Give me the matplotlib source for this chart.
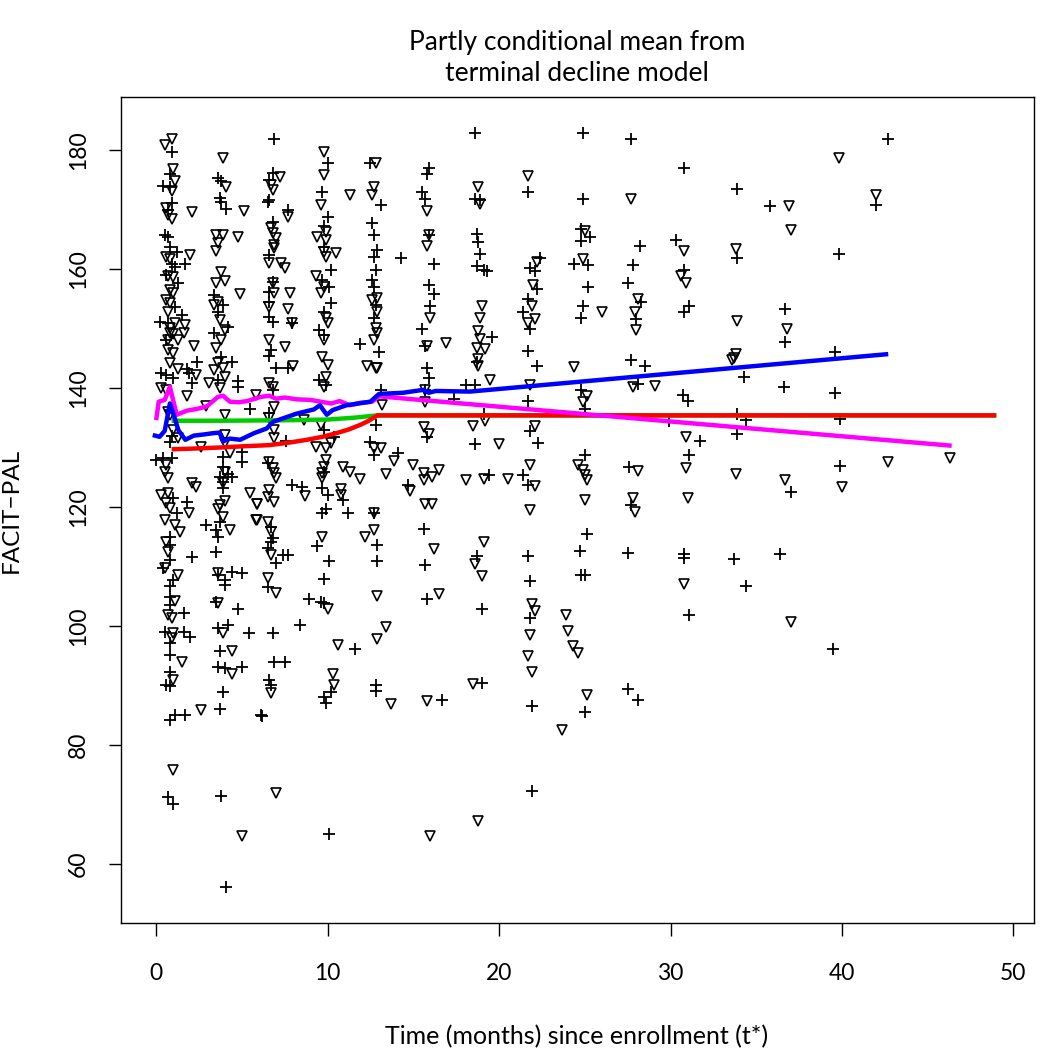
import numpy as np
import matplotlib
matplotlib.use('Agg')
import matplotlib.pyplot as plt

# observations drawn as "+" (time in months, FACIT-PAL score)
plus_points = [
    # baseline visit
    (0.9, 179.7), (0.8, 176.0), (0.4, 174.0), (0.8, 173.8), (0.9, 171.1), (0.7, 169.9),
    (0.5, 165.7), (0.7, 165.4), (0.8, 163.7), (1.2, 162.9), (1.7, 160.8), (0.9, 160.8),
    (1.1, 160.3), (0.6, 159.0), (1.3, 157.6), (1.1, 153.6), (1.5, 152.3), (0.2, 151.1),
    (0.7, 150.9), (0.6, 148.1), (2.4, 144.4), (1.8, 143.2), (0.6, 142.2), (1.0, 141.7),
    (1.9, 142.5), (2.1, 140.8), (0.3, 142.5), (0.8, 131.0), (0.9, 132.0), (0.0, 127.9),
    (0.4, 128.2), (0.9, 128.2), (1.0, 121.5), (1.8, 120.8), (1.2, 119.0), (2.9, 117.0),
    (0.8, 115.0), (0.8, 113.6), (0.8, 111.1), (2.1, 111.6), (0.4, 109.7), (1.0, 107.7),
    (0.8, 106.7), (0.8, 104.9), (0.8, 103.5), (1.6, 102.2), (0.5, 99.0), (1.6, 99.0),
    (2.0, 98.2), (0.8, 97.1), (0.8, 95.1), (0.8, 92.3), (0.6, 90.1), (0.8, 89.9),
    (1.1, 85.0), (1.7, 85.0), (0.8, 84.2), (0.7, 71.3), (1.0, 70.1),
    # ~3 months
    (3.6, 175.3), (3.8, 174.8), (3.7, 171.9), (3.8, 171.3), (4.1, 170.1), (3.4, 155.6),
    (3.9, 154.0), (3.6, 152.8), (4.2, 150.3), (3.4, 149.2), (3.8, 145.2), (4.4, 144.4),
    (3.6, 141.3), (4.8, 141.1), (4.8, 140.2), (5.5, 136.5), (3.9, 128.4), (5.0, 129.2),
    (5.0, 127.6), (3.9, 126.7), (3.7, 125.1), (4.2, 125.5), (4.4, 125.1), (3.9, 124.2),
    (3.9, 123.2), (3.7, 117.5), (3.5, 116.1), (3.6, 115.0), (3.5, 112.4), (3.6, 108.6),
    (4.0, 107.7), (4.0, 106.9), (4.4, 109.1), (5.0, 108.9), (3.5, 104.0), (4.8, 102.9),
    (3.6, 99.7), (4.2, 100.2), (5.4, 98.8), (3.7, 95.8), (3.6, 93.1), (4.0, 92.9),
    (5.0, 93.1), (3.9, 88.9), (3.7, 86.0), (6.1, 85.0), (3.8, 71.4), (4.1, 56.1),
    # ~6-7 months
    (6.9, 181.8), (6.8, 176.1), (6.6, 175.0), (6.6, 171.6), (6.5, 171.3), (7.7, 169.9),
    (6.8, 167.9), (6.6, 162.4), (6.8, 157.8), (6.6, 156.1), (6.6, 154.5), (6.6, 151.9),
    (6.8, 151.1), (7.9, 150.9), (6.7, 146.4), (6.6, 145.4), (7.0, 143.4), (7.7, 143.4),
    (6.8, 139.7), (6.6, 135.8), (7.6, 131.1), (6.5, 127.4), (7.9, 123.7), (8.5, 123.4),
    (6.7, 116.6), (6.8, 114.8), (6.7, 114.1), (6.5, 113.1), (7.4, 111.9), (7.7, 111.9),
    (7.0, 110.6), (6.5, 106.6), (6.8, 98.8), (8.4, 100.2), (6.9, 94.0), (7.5, 94.0),
    (6.6, 90.9), (6.7, 90.1), (6.2, 84.9),
    # ~10 months
    (10.0, 177.8), (9.7, 172.9), (10.0, 168.7), (9.8, 167.2), (9.8, 163.7), (10.2, 159.8),
    (9.7, 158.2), (10.1, 157.0), (10.2, 154.3), (9.8, 152.8), (9.5, 149.7), (9.8, 148.9),
    (9.5, 141.3), (9.9, 140.5), (9.8, 133.0), (10.4, 131.8), (9.8, 125.9), (9.7, 123.2),
    (10.0, 122.0), (10.9, 121.2), (9.7, 119.0), (9.9, 119.7), (11.2, 119.0), (9.4, 113.4),
    (10.1, 111.0), (9.8, 107.9), (8.9, 104.5), (9.6, 104.0), (9.8, 103.9), (11.6, 96.1),
    (10.2, 88.9), (9.8, 88.1), (9.9, 87.1), (10.1, 65.0),
    # ~13 months
    (12.5, 177.8), (13.1, 170.8), (12.6, 167.7), (12.7, 165.7), (12.9, 163.2), (12.7, 162.0),
    (14.3, 161.8), (12.8, 159.8), (12.6, 158.2), (12.7, 157.0), (12.8, 154.0), (12.7, 151.8),
    (13.0, 146.1), (11.9, 147.4), (13.1, 139.7), (12.8, 133.8), (12.5, 130.9), (12.7, 128.7),
    (14.1, 129.0), (12.7, 119.0), (12.9, 113.6), (12.9, 111.0), (12.8, 90.1), (12.8, 89.1),
    # ~16 months
    (15.9, 176.9), (15.8, 176.0), (15.5, 172.9), (15.7, 171.8), (15.9, 165.7), (16.2, 160.8),
    (15.9, 157.3), (16.2, 155.8), (16.0, 153.8), (15.5, 149.9), (15.7, 147.1), (15.8, 143.4),
    (15.9, 141.6), (15.7, 139.7), (17.4, 138.2), (15.8, 131.7), (14.7, 123.7), (15.6, 116.3),
    (15.7, 110.3), (15.8, 104.5), (16.7, 87.6),
    # ~19 months
    (18.6, 182.9), (18.6, 171.8), (18.9, 171.6), (18.7, 165.9), (18.8, 164.5), (18.9, 162.6),
    (18.7, 160.5), (19.1, 159.8), (19.3, 159.7), (19.6, 148.5), (18.7, 144.3), (18.1, 140.5),
    (18.6, 140.5), (19.1, 135.6), (18.6, 130.6), (19.4, 125.4), (18.7, 111.7), (19.0, 102.9),
    (19.0, 90.5),
    # ~22 months
    (21.7, 172.9), (22.4, 161.9), (21.8, 160.1), (22.1, 159.7), (22.2, 156.6), (21.7, 155.0),
    (21.4, 152.7), (21.8, 149.9), (21.7, 146.2), (22.2, 143.7), (21.7, 137.8), (21.8, 132.8),
    (22.3, 130.7), (21.4, 125.4), (21.7, 123.7), (21.7, 111.7), (21.8, 107.6), (21.8, 101.4),
    (21.9, 86.6), (21.9, 72.3),
    # ~25 months
    (24.9, 182.8), (24.9, 171.8), (24.8, 166.7), (25.3, 165.3), (24.8, 164.7), (24.4, 160.8),
    (25.2, 160.7), (25.2, 156.9), (24.9, 153.8), (24.8, 151.8), (24.8, 139.7), (25.0, 136.5),
    (25.0, 128.7), (25.1, 115.5), (24.7, 112.6), (24.8, 108.6), (25.0, 108.6), (25.0, 85.5),
    # ~28 months
    (27.7, 181.8), (28.2, 163.9), (27.8, 160.7), (27.5, 157.7), (28.3, 154.4), (28.0, 151.6),
    (27.7, 144.7), (28.5, 143.7), (28.1, 140.7), (27.6, 126.8), (27.7, 120.3), (27.5, 112.2),
    (27.5, 89.5), (28.1, 87.6),
    # ~31 months
    (30.8, 176.9), (30.3, 164.9), (30.8, 159.8), (31.1, 153.7), (30.8, 152.7), (30.7, 138.8),
    (31.0, 137.8), (29.9, 134.5), (31.7, 131.1), (31.1, 128.7), (30.8, 112.1), (30.8, 111.5),
    (31.1, 101.8),
    # ~34 months and later
    (33.9, 173.5), (33.9, 161.9), (34.3, 141.8), (33.9, 135.7), (34.4, 134.6), (33.9, 132.3),
    (33.7, 111.3), (34.4, 106.7), (35.8, 170.6), (36.7, 153.3), (36.7, 147.8), (36.6, 140.1),
    (37.0, 122.6), (36.4, 112.1), (39.8, 162.5), (39.6, 146.0), (39.6, 139.2), (39.9, 134.8),
    (39.9, 126.9), (39.5, 96.2), (42.7, 181.9), (42.0, 170.8),
]

# observations drawn as open down-triangles
tri_points = [
    # baseline visit
    (0.9, 181.8), (0.5, 180.8), (1.0, 176.8), (1.1, 174.8), (0.9, 173.1), (0.6, 170.3),
    (0.7, 169.1), (0.9, 168.4), (2.1, 169.6), (0.6, 162.0), (0.8, 161.7), (2.0, 162.4),
    (0.7, 158.8), (1.0, 158.7), (0.8, 156.5), (1.0, 156.0), (0.6, 154.8), (0.8, 154.3),
    (0.7, 152.8), (1.1, 150.9), (1.7, 150.6), (0.8, 150.1), (1.6, 149.3), (0.8, 149.3),
    (1.0, 149.0), (0.7, 148.1), (1.3, 148.1), (2.2, 147.1), (0.7, 146.4), (1.0, 145.9),
    (0.8, 144.2), (1.3, 143.2), (2.3, 142.2), (3.1, 140.8), (0.3, 140.0), (0.6, 139.7),
    (1.8, 138.7), (2.9, 137.0), (0.7, 136.0), (0.8, 135.5), (1.0, 133.0), (1.3, 131.6),
    (2.6, 130.1), (0.6, 127.1), (0.5, 125.9), (0.7, 124.9), (2.1, 124.0), (2.3, 123.4),
    (0.3, 122.0), (0.7, 122.4), (0.6, 120.7), (0.8, 119.8), (1.9, 119.0), (0.5, 117.8),
    (1.1, 117.0), (1.4, 115.8), (0.6, 114.1), (0.7, 112.4), (0.5, 109.7), (1.3, 108.6),
    (1.1, 104.2), (0.7, 101.8), (0.9, 101.3), (1.0, 98.8), (0.9, 98.0), (1.5, 94.0),
    (1.0, 90.9), (2.6, 85.9), (1.0, 75.8),
    # ~3 months
    (3.9, 178.7), (4.1, 173.8), (5.1, 169.7), (3.5, 165.7), (3.9, 165.7), (3.6, 164.4),
    (3.5, 163.0), (4.8, 165.4), (3.8, 159.5), (3.5, 157.6), (4.0, 158.0), (4.9, 155.8),
    (3.6, 154.5), (3.4, 154.0), (3.7, 151.4), (4.0, 149.7), (3.8, 148.1), (3.5, 146.7),
    (3.6, 144.2), (3.9, 143.4), (3.4, 143.0), (4.0, 141.8), (3.7, 140.0), (5.8, 138.8),
    (4.0, 135.5), (4.0, 132.1), (4.0, 130.8), (4.3, 129.1), (4.0, 125.9), (3.9, 124.0),
    (5.5, 122.4), (5.9, 120.5), (5.8, 117.8), (3.7, 120.3), (4.0, 121.0), (3.6, 119.6),
    (3.9, 118.3), (4.3, 116.1), (3.6, 108.9), (3.6, 103.9), (3.9, 98.8), (4.4, 95.8),
    (4.4, 91.9), (5.0, 64.7),
    # ~6-7 months
    (7.2, 175.5), (6.7, 174.1), (6.8, 173.3), (7.7, 168.7), (6.7, 166.9), (6.8, 166.0),
    (7.0, 165.2), (6.9, 164.0), (6.9, 163.5), (6.6, 161.0), (7.3, 161.0), (7.5, 160.2),
    (6.8, 157.6), (6.9, 156.0), (7.8, 156.0), (6.6, 153.6), (7.7, 153.3), (7.9, 150.9),
    (6.6, 148.1), (7.5, 146.9), (8.0, 143.7), (6.6, 140.8), (6.8, 140.2), (6.9, 136.8),
    (6.6, 135.0), (6.9, 133.0), (6.9, 131.6), (8.6, 134.6), (6.6, 127.6), (6.8, 126.6),
    (6.9, 125.7), (7.0, 124.9), (10.9, 126.7), (11.3, 125.9), (11.9, 124.7), (6.6, 122.9),
    (6.5, 121.7), (6.9, 120.8), (8.7, 121.8), (5.9, 120.5), (5.9, 117.8), (6.5, 117.5),
    (6.7, 115.8), (6.7, 111.9), (6.5, 108.1), (7.0, 105.5), (6.7, 88.7), (7.0, 71.9),
    # ~10 months
    (9.8, 179.7), (9.8, 175.8), (11.3, 172.5), (9.6, 170.8), (9.9, 166.2), (9.4, 165.4),
    (9.9, 164.9), (9.8, 162.9), (9.9, 162.0), (10.5, 162.7), (9.3, 158.8), (9.8, 157.0),
    (9.6, 156.0), (9.9, 151.8), (10.0, 150.9), (9.8, 148.1), (9.7, 145.2), (10.0, 143.9),
    (9.9, 141.8), (9.8, 140.2), (9.6, 133.8), (9.3, 130.1), (9.9, 129.9), (10.2, 130.8),
    (9.9, 127.9), (9.8, 126.7), (9.7, 125.7), (9.7, 124.9), (10.8, 123.0), (10.8, 122.0),
    (9.7, 115.0), (10.0, 102.9), (10.6, 96.8), (10.3, 91.9), (10.4, 90.1),
    # ~13 months
    (12.8, 177.8), (12.7, 173.8), (12.6, 172.4), (12.6, 154.8), (12.9, 155.1), (12.9, 152.8),
    (12.8, 150.1), (12.9, 149.2), (12.7, 148.1), (12.3, 143.7), (12.8, 143.4), (12.9, 143.4),
    (13.2, 137.1), (12.7, 129.9), (13.1, 129.9), (13.9, 127.7), (13.4, 125.5), (12.7, 119.0),
    (12.7, 116.1), (12.2, 115.0), (12.9, 105.0), (13.4, 99.8), (12.9, 97.8), (13.7, 86.9),
    # ~16 months
    (15.8, 169.7), (15.9, 165.7), (15.8, 163.8), (16.0, 151.7), (15.8, 147.1), (16.9, 147.6),
    (15.7, 139.7), (15.7, 137.6), (15.6, 133.4), (15.9, 132.2), (15.0, 127.1), (15.6, 125.8),
    (16.1, 125.0), (16.5, 126.2), (15.6, 124.5), (14.8, 122.7), (15.7, 120.5), (16.1, 120.5),
    (16.2, 112.9), (16.5, 105.4), (15.8, 87.4), (16.0, 64.7),
    # ~19 months
    (18.8, 173.7), (18.9, 171.0), (19.0, 153.8), (18.9, 151.7), (18.8, 149.6), (18.9, 148.3),
    (18.7, 146.8), (19.2, 146.6), (18.8, 144.9), (18.8, 143.7), (19.5, 141.3), (18.5, 133.6),
    (19.2, 134.5), (20.0, 130.6), (18.1, 124.5), (19.1, 124.7), (20.5, 124.7), (19.1, 114.2),
    (18.6, 110.5), (19.0, 108.4), (18.5, 90.3), (18.8, 67.2),
    # ~22 months
    (21.7, 175.6), (22.2, 161.1), (22.0, 157.3), (21.9, 153.8), (22.1, 151.6), (21.7, 151.0),
    (21.8, 140.5), (22.1, 133.6), (21.8, 127.1), (22.1, 123.5), (21.8, 119.5), (21.9, 103.7),
    (22.1, 102.5), (21.8, 98.5), (21.7, 95.0), (21.9, 92.2), (23.9, 101.8), (24.0, 99.2),
    (24.3, 96.6), (24.6, 95.5), (23.7, 82.5),
    # ~25 months
    (24.9, 161.7), (25.0, 166.4), (26.0, 152.7), (24.4, 143.6), (25.1, 138.7), (24.9, 137.6),
    (24.6, 127.1), (24.9, 126.2), (25.0, 125.4), (25.1, 124.5), (25.0, 121.2), (25.1, 88.4),
    # ~28 months
    (27.7, 171.8), (28.1, 155.0), (27.9, 152.7), (28.0, 149.7), (27.8, 140.1), (29.1, 140.3),
    (28.1, 126.0), (27.8, 121.6), (27.9, 119.2),
    # ~31 months
    (30.8, 163.0), (30.6, 158.8), (30.9, 157.7), (30.9, 131.8), (30.9, 126.6), (31.0, 121.6),
    (30.8, 107.1),
    # ~34 months and later
    (33.8, 163.4), (33.9, 151.3), (33.8, 145.7), (33.7, 145.1), (33.6, 144.7), (33.8, 125.6),
    (36.9, 170.6), (37.0, 166.6), (36.8, 149.9), (36.7, 124.5), (37.0, 100.6),
    (39.8, 178.7), (40.0, 123.4), (42.0, 172.4), (42.7, 127.5), (46.3, 128.2),
]

# fitted mean curves
red_x = [0.9, 2.0, 3.7, 5.0, 6.6, 7.7, 8.8, 9.7, 10.5, 11.2, 11.9, 12.4, 12.9, 49.0]
red_y = [129.7, 129.8, 130.0, 130.2, 130.4, 130.8, 131.3, 131.8, 132.4, 133.0, 133.8, 134.5, 135.4, 135.4]

green_x = [0.9, 4.0, 8.0, 10.0, 11.5, 12.9, 49.0]
green_y = [134.5, 134.5, 134.6, 134.7, 135.0, 135.4, 135.4]

magenta_x = [0.0, 0.15, 0.5, 0.8, 1.2, 1.8, 2.4, 2.95, 3.6, 3.9, 4.3, 4.8, 5.3, 6.1,
             6.6, 7.0, 7.5, 8.2, 9.0, 9.6, 10.2, 10.7, 11.3, 11.9, 12.6, 13.0, 46.4]
magenta_y = [134.6, 137.7, 138.0, 140.2, 135.5, 136.2, 136.5, 136.9, 138.5, 138.7, 137.7, 137.6, 137.8, 138.5,
             138.7, 138.2, 138.4, 138.1, 138.0, 137.7, 137.4, 137.8, 137.1, 137.5, 137.7, 138.6, 130.3]

blue_x = [-0.2, 0.2, 0.5, 0.8, 1.0, 1.3, 1.7, 2.2, 2.8, 3.3, 3.7, 3.9, 4.3, 4.9, 5.7, 6.45,
          6.8, 7.4, 8.2, 9.2, 9.55, 9.95, 10.3, 11.1, 12.5, 12.8, 13.0, 14.4, 15.6, 15.9, 16.3, 18.3, 42.7]
blue_y = [132.1, 131.8, 132.8, 137.4, 135.7, 132.9, 131.3, 132.0, 132.2, 132.4, 132.5, 131.0, 131.5, 131.3, 132.4, 133.2,
          134.3, 134.9, 135.7, 136.4, 137.1, 135.5, 136.3, 137.1, 137.7, 138.5, 139.0, 139.2, 139.7, 139.2, 139.5, 139.4, 145.7]

x_ticks = [0, 10, 20, 30, 40, 50]
y_ticks = [60, 80, 100, 120, 140, 160, 180]

plt.rcParams['font.family'] = ['Lato', 'DejaVu Sans']

W, H = 1049, 1050
fig = plt.figure(figsize=(W / 100, H / 100), dpi=100)
ax = fig.add_axes([121 / W, 1 - 923 / H, (1034 - 121) / W, (923 - 97) / H])

px, py = np.array(plus_points).T
tx, ty = np.array(tri_points).T
ax.plot(px, py, linestyle='none', marker='+', ms=9, mew=1.3, color='black')
ax.plot(tx, ty, linestyle='none', marker='v', ms=7.5, mfc='none', mec='black', mew=1.2)

ax.plot(green_x, green_y, color='#00cc00', lw=3.2, solid_capstyle='butt')
ax.plot(red_x, red_y, color='#ff0000', lw=3.2, solid_capstyle='butt')
ax.plot(magenta_x, magenta_y, color='#ff00ff', lw=3.2, solid_capstyle='butt')
ax.plot(blue_x, blue_y, color='#0000ff', lw=3.2, solid_capstyle='butt')

ax.set_xlim(-2.05, 51.2)
ax.set_ylim(50.1, 188.9)
ax.set_xticks(x_ticks)
ax.set_yticks(y_ticks)
for s in ax.spines.values():
    s.set_linewidth(1.0)
ax.tick_params(axis='both', direction='out', length=9, width=1.0, labelsize=16.5)
ax.tick_params(axis='x', pad=20)
ax.tick_params(axis='y', pad=14)
for t in ax.get_yticklabels():
    t.set_rotation(90)
    t.set_va('center')

fig.text(577 / W, 1 - 58 / H, 'Partly conditional mean from\nterminal decline model',
         ha='center', va='center', fontsize=19, linespacing=1.28)
fig.text(577 / W, 1 - 1037 / H, 'Time (months) since enrollment (t*)',
         ha='center', va='center', fontsize=18)
fig.text(0.5 / W, 1 - 510 / H, 'FACIT\u2212PAL', ha='left', va='center',
         rotation=90, fontsize=17.5)

plt.savefig('out.png', dpi=100)
plt.close()
